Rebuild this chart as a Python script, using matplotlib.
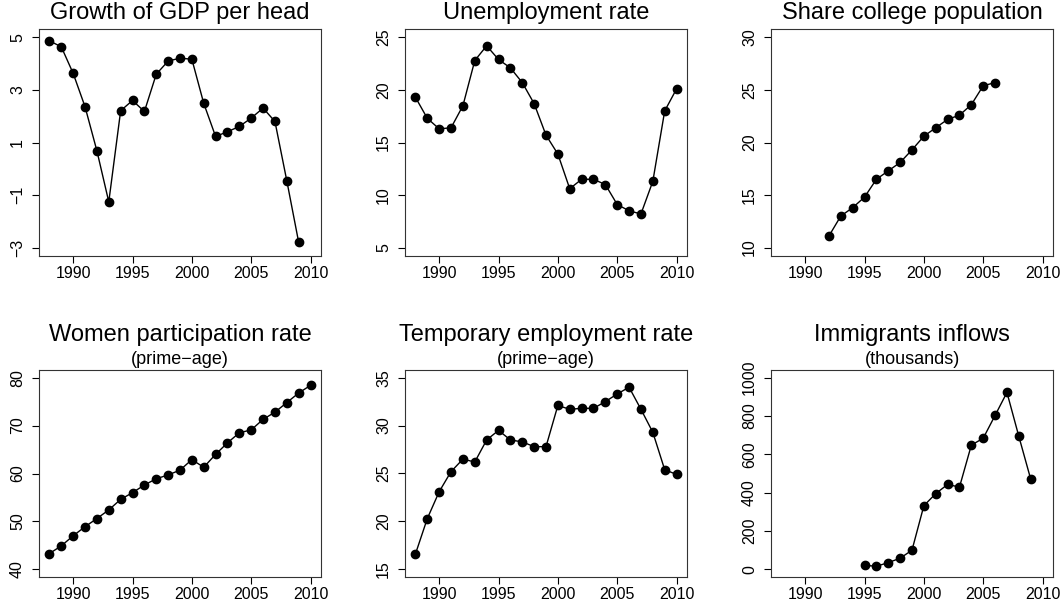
import matplotlib

matplotlib.use("Agg")
import matplotlib.pyplot as plt

plt.rcParams["font.family"] = ["Liberation Sans", "DejaVu Sans"]

# ---- series -----------------------------------------------------------------
years_88_10 = list(range(1988, 2011))
years_88_09 = list(range(1988, 2010))
years_92_06 = list(range(1992, 2007))
years_95_09 = list(range(1995, 2010))

gdp_growth = [4.87, 4.64, 3.63, 2.36, 0.68, -1.26, 2.21, 2.60, 2.18, 3.60, 4.10,
              4.21, 4.17, 2.49, 1.23, 1.41, 1.61, 1.93, 2.31, 1.80, -0.46, -2.80]
unemployment = [19.3, 17.3, 16.3, 16.4, 18.5, 22.8, 24.2, 22.9, 22.1, 20.7, 18.7,
                15.7, 13.9, 10.6, 11.5, 11.5, 11.0, 9.1, 8.5, 8.2, 11.3, 18.0, 20.1]
college_share = [11.1, 13.0, 13.8, 14.8, 16.5, 17.3, 18.1, 19.3, 20.6, 21.4, 22.2,
                 22.6, 23.6, 25.4, 25.7]
women_part = [43.3, 44.9, 47.0, 48.9, 50.6, 52.4, 54.6, 56.0, 57.6, 58.9, 59.7,
              60.7, 62.9, 61.3, 64.0, 66.4, 68.5, 69.1, 71.3, 72.8, 74.8, 76.8, 78.4]
temp_emp = [16.6, 20.3, 23.1, 25.2, 26.5, 26.2, 28.5, 29.5, 28.5, 28.3, 27.8,
            27.8, 32.1, 31.7, 31.8, 31.8, 32.5, 33.3, 34.0, 31.7, 29.3, 25.4, 24.9]
immigrants = [21, 16, 35, 58, 100, 332, 395, 443, 429, 648, 684, 803, 923, 694, 471]

panels = [
    ("Growth of GDP per head", None, years_88_09, gdp_growth, (-3, 5), [-3, -1, 1, 3, 5]),
    ("Unemployment rate", None, years_88_10, unemployment, (5, 25), [5, 10, 15, 20, 25]),
    ("Share college population", None, years_92_06, college_share, (10, 30), [10, 15, 20, 25, 30]),
    ("Women participation rate", "(prime\u2212age)", years_88_10, women_part, (40, 80),
     [40, 50, 60, 70, 80]),
    ("Temporary employment rate", "(prime\u2212age)", years_88_10, temp_emp, (15, 35),
     [15, 20, 25, 30, 35]),
    ("Immigrants inflows", "(thousands)", years_95_09, immigrants, (0, 1000),
     [0, 200, 400, 600, 800, 1000]),
]

# ---- figure -------------------------------------------------------------------
W, H = 1064, 600
fig = plt.figure(figsize=(W / 100, H / 100), dpi=100)

lefts = [39, 405, 771]
width = 282
rows = [(29, 256), (370, 577)]  # (top, bottom) in pixels


def pad4(lo, hi):
    d = (hi - lo) * 0.04
    return lo - d, hi + d


for i, (title, sub, xs, ys, ylim, yticks) in enumerate(panels):
    r, c = divmod(i, 3)
    top, bot = rows[r]
    ax = fig.add_axes([lefts[c] / W, 1 - bot / H, width / W, (bot - top) / H])
    ax.plot(xs, ys, color="black", lw=1.0, marker="o", ms=6, mfc="black", mec="black")
    ax.set_xlim(*pad4(1988, 2010))
    ax.set_ylim(*pad4(*ylim))
    ax.set_xticks([1990, 1995, 2000, 2005, 2010])
    ax.set_yticks(yticks)
    ax.tick_params(direction="out", length=5, width=0.8, labelsize=11.5, color="black")
    ax.tick_params(axis="x", pad=2)
    ax.tick_params(axis="y", pad=5)
    for lab in ax.get_yticklabels():
        lab.set_rotation(90)
        lab.set_va("center")
    for sp in ax.spines.values():
        sp.set_linewidth(0.8)
        sp.set_color("#333333")

    if sub is None:
        ax.annotate(title, (0.5, 1.0), xycoords="axes fraction", xytext=(0, 11.5),
                    textcoords="offset points", ha="center", va="center", fontsize=17)
    else:
        ax.annotate(title, (0.5, 1.0), xycoords="axes fraction", xytext=(0, 25),
                    textcoords="offset points", ha="center", va="center", fontsize=17)
        ax.annotate(sub, (0.5, 1.0), xycoords="axes fraction", xytext=(0, 7.2),
                    textcoords="offset points", ha="center", va="center", fontsize=13)

fig.savefig("out.png", dpi=100)
